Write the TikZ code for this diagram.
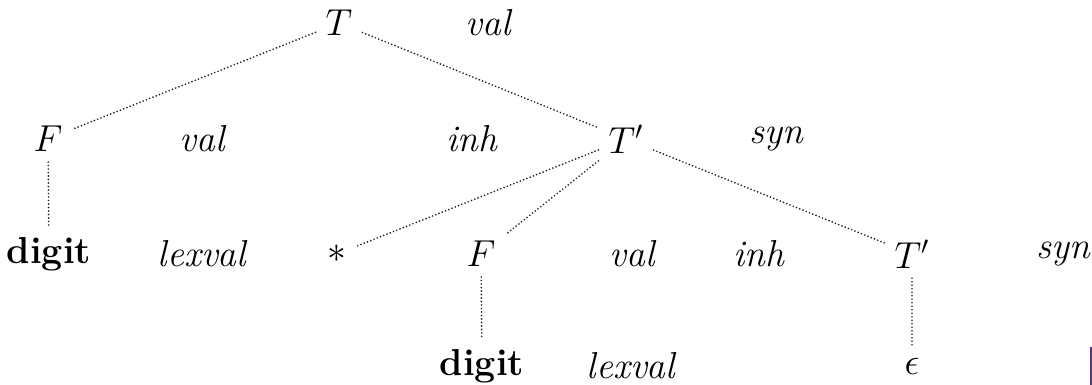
\documentclass[tikz,border=0pt]{standalone}
\definecolor{barpurple}{RGB}{84,54,134}
\tikzset{
  lbl/.style={font=\LARGE, scale=2.17, transform shape, inner sep=4.5pt, anchor=center},
  dotline/.style={line width=1.9pt, dash pattern=on 0pt off 3.5pt, line cap=round, black!85}
}
\begin{document}
\begin{tikzpicture}[x=1pt,y=-1pt]
\useasboundingbox (0,0) rectangle (1092,385);
% level 0
\node[lbl] (T) at (339,23) {$T$};
\node[lbl] (Tval) at (489,23) {\textit{val}};
% level 1
\node[lbl] (Fa) at (48,139) {$F$};
\node[lbl] (Faval) at (203,139) {\textit{val}};
\node[lbl] (Tainh) at (472,139) {\textit{inh}};
\node[lbl] (Ta) at (626,139) {$T'$};
\node[lbl] (Tasyn) at (777,139) {\textit{syn}};
% level 2
\node[lbl] (dga) at (49,254) {\textbf{digit}};
\node[lbl] (lxa) at (203,254) {\textit{lexval}};
\node[lbl] (star) at (337,254) {$*$};
\node[lbl] (Fb) at (481,254) {$F$};
\node[lbl] (Fbval) at (633,254) {\textit{val}};
\node[lbl] (Tbinh) at (759,254) {\textit{inh}};
\node[lbl] (Tb) at (912,254) {$T'$};
\node[lbl] (Tbsyn) at (1064,254) {\textit{syn}};
% level 3
\node[lbl] (dgb) at (482,366) {\textbf{digit}};
\node[lbl] (lxb) at (632,366) {\textit{lexval}};
\node[lbl] (eps) at (912,366) {$\epsilon$};
% connectors
\draw[dotline] (T) -- (Fa);
\draw[dotline] (T) -- (Ta);
\draw[dotline] (Fa) -- (dga);
\draw[dotline] (Ta) -- (star);
\draw[dotline] (Ta) -- (Fb);
\draw[dotline] (Ta) -- (Tb);
\draw[dotline] (Fb) -- (dgb);
\draw[dotline] (Tb) -- (eps);
% edge mark at bottom right
\fill[barpurple] (1089.5,347) rectangle (1092,385);
\end{tikzpicture}
\end{document}
